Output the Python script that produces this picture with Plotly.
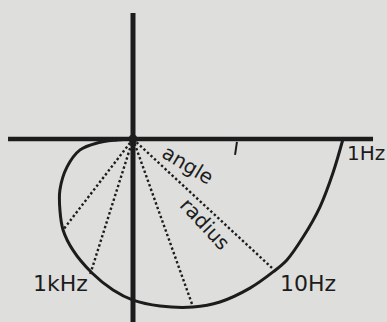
import plotly.graph_objects as go

# Nyquist locus of the response, real / imaginary parts (1 Hz at the right end,
# sweeping clockwise round to the origin at high frequency)
curve_re = [1.000, 0.952, 0.890, 0.810, 0.733, 0.667, 0.557, 0.414, 0.286, 0.129,
            0.000, -0.095, -0.195, -0.286, -0.333, -0.348, -0.348, -0.314, -0.252,
            -0.171, -0.076, 0.000]
curve_im = [0.000, -0.162, -0.324, -0.467, -0.576, -0.633, -0.710, -0.776, -0.800,
            -0.795, -0.767, -0.719, -0.638, -0.529, -0.433, -0.338, -0.243, -0.133,
            -0.052, -0.019, -0.005, 0.000]

# points on the locus joined to the origin by a radius
spoke_re = [-0.333, -0.205, 0.286, 0.662]
spoke_im = [-0.433, -0.648, -0.800, -0.614]

# frequency labels, where they sit (left edge of each label) and their sizes
freq_labels = ["1Hz", "10Hz", "1kHz"]
freq_x = [1.010, 0.690, -0.488]
freq_y = [-0.067, -0.686, -0.686]
freq_size = [20, 22, 22]

# axis extents
axis_x = [-0.595, 1.143]
axis_y = [-0.90, 0.60]

# angle tick on the real axis
tick_x = [0.495, 0.486]
tick_y = [-0.014, -0.076]

INK = "#1c1c1c"
PAPER = "#dedfdd"

fig = go.Figure()

# real and imaginary axes
fig.add_trace(go.Scatter(x=axis_x, y=[0, 0], mode="lines",
                         line=dict(color=INK, width=4.5), hoverinfo="skip"))
fig.add_trace(go.Scatter(x=[0, 0], y=axis_y, mode="lines",
                         line=dict(color=INK, width=5), hoverinfo="skip"))

# dotted radii
for xr, yr in zip(spoke_re, spoke_im):
    fig.add_trace(go.Scatter(x=[0, xr], y=[0, yr], mode="lines",
                             line=dict(color=INK, width=2.4, dash="2.4px,2.4px"),
                             hoverinfo="skip"))

# the locus
fig.add_trace(go.Scatter(x=curve_re, y=curve_im, mode="lines",
                         line=dict(color=INK, width=3, shape="spline", smoothing=1.0),
                         hoverinfo="skip"))

# angle tick
fig.add_trace(go.Scatter(x=tick_x, y=tick_y, mode="lines",
                         line=dict(color=INK, width=2), hoverinfo="skip"))

# heavy dot where the axes cross
fig.add_trace(go.Scatter(x=[0], y=[0], mode="markers",
                         marker=dict(color=INK, size=9), hoverinfo="skip"))

font = dict(family="DejaVu Sans", color=INK)
annotations = []
for t, x, y, s in zip(freq_labels, freq_x, freq_y, freq_size):
    annotations.append(dict(x=x, y=y, xref="x", yref="y", text=t, showarrow=False,
                            font=dict(size=s, **font), xanchor="left", yanchor="middle"))
annotations.append(dict(x=0.262, y=-0.124, xref="x", yref="y", text="angle",
                        showarrow=False, textangle=31, font=dict(size=20, **font)))
annotations.append(dict(x=0.343, y=-0.405, xref="x", yref="y", text="radius",
                        showarrow=False, textangle=47, font=dict(size=20, **font)))

fig.update_layout(
    width=387, height=322,
    margin=dict(l=0, r=0, t=0, b=0),
    paper_bgcolor=PAPER, plot_bgcolor=PAPER,
    showlegend=False,
    annotations=annotations,
    xaxis=dict(range=[-0.6333, 1.2095], visible=False, fixedrange=True),
    yaxis=dict(range=[-0.8714, 0.6619], visible=False, fixedrange=True),
)

fig.write_html("out.html", config={"displayModeBar": False})
